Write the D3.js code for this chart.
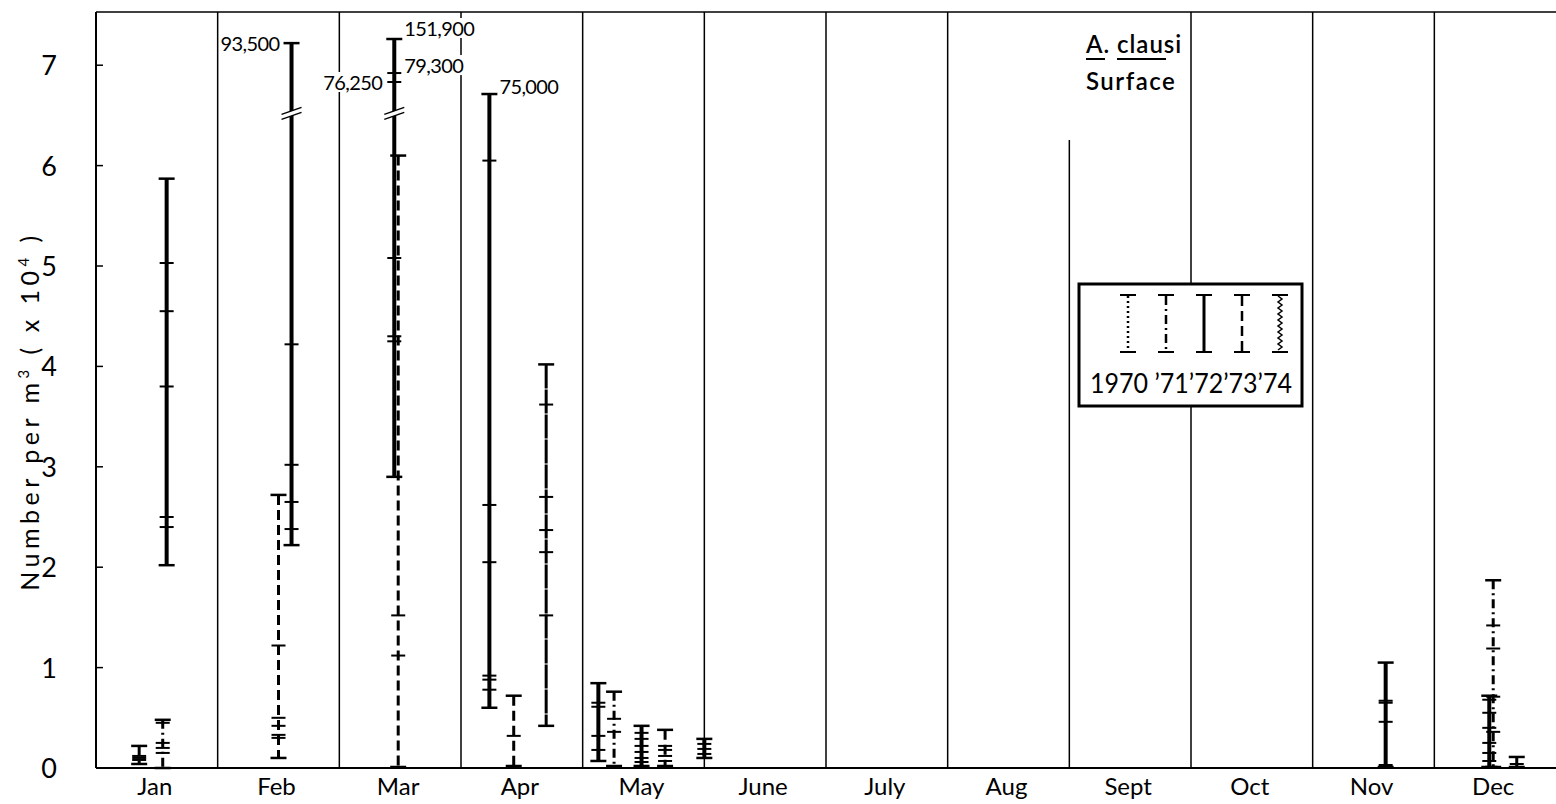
<!DOCTYPE html>
<html><head><meta charset="utf-8">
<script src="https://cdn.jsdelivr.net/npm/d3@7"></script>
<style>
body{margin:0;background:#fff;}
svg{display:block;font-family:Lato,"Open Sans",sans-serif;}
</style></head><body>
<svg id="chart" width="1556" height="804"></svg>
<script>
// ---------- data ----------
const months = ["Jan","Feb","Mar","Apr","May","June","July","Aug","Sept","Oct","Nov","Dec"];
const monthDays = [31,28,31,30,31,30,31,31,30,31,30,31];
const yearLabels = ["1970","’71","’72","’73","’74"];
const yTickValues = [0,1,2,3,4,5,6,7];

// one bar = range of one year's samples in a month (number per m3, x10^4)
const barMonth = ["Jan","Jan","Jan","Feb","Feb","Mar","Mar","Apr","Apr","Apr","May","May","May","May","May","Nov","Dec","Dec","Dec"];
const barDay   = [11,17,18,14,17,14,15,7,13,21,4,8,15,21,31,18,15,14,21];
const barYear  = ["’73","’71","’72","’73","’72","’72","’73","’72","’73","’74","’72","’71","’72","’73","’72","’72","’71","’72","’73"];
const barMin   = [0.04,0.00,2.02,0.10,2.22,2.90,0.01,0.60,0.02,0.42,0.07,0.02,0.02,0.02,0.10,0.01,0.01,0.01,0.01];
const barMax   = [0.22,0.48,5.87,2.72,9.35,15.19,6.10,7.50,0.72,4.02,0.845,0.76,0.42,0.38,0.29,1.05,1.87,0.72,0.11];
const barSamples = [
  [0.08,0.10,0.12],
  [0.45,0.25,0.20,0.15],
  [5.03,4.55,3.80,2.50,2.40],
  [1.22,0.50,0.42,0.33,0.30],
  [4.22,3.02,2.65,2.38],
  [7.93,7.625,5.08,4.30,4.25],
  [1.52,1.12],
  [6.05,2.62,2.05,0.92,0.88,0.78],
  [0.32],
  [3.62,2.70,2.37,2.15,1.52],
  [0.65,0.61,0.32,0.18],
  [0.49,0.36],
  [0.35,0.29,0.22,0.16,0.10,0.06],
  [0.22,0.18,0.12,0.07],
  [0.24,0.19,0.14],
  [0.67,0.65,0.46,0.03],
  [1.42,1.19,0.71,0.36],
  [0.68,0.55,0.40,0.25,0.15,0.07],
  [0.04]
];
// off-scale values are drawn compressed above the axis break
const breakValues  = [0, 6.5, 7.5, 7.625, 7.93, 9.35, 15.19];
const breakDisplay = [0, 6.5, 6.713, 6.833, 6.922, 7.22, 7.261];

// ---------- layout ----------
const svg = d3.select("#chart");
const pL = 96, pR = 1556, pT = 12, pB = 768;
const yAxis = d3.scaleLinear().domain([0, 7.53]).range([pB, pT]);
const y = d3.scaleLinear().domain(breakValues).range(breakDisplay.map(yAxis));
const xMonth = d3.scaleBand().domain(months).range([pL, pR]).padding(0);
const bw = xMonth.bandwidth();
const barX = (m, d) => xMonth(m) + d / monthDays[months.indexOf(m)] * bw;

const yearStyle = {
  "1970": {w:2,   dash:"2,3"},
  "’71":  {w:3,   dash:"9,4,2,4"},
  "’72":  {w:4,   dash:null},
  "’73":  {w:3,   dash:"10,5"},
  "’74":  {w:3,   dash:"24,1"}
};

// frame
svg.append("line").attr("x1",pL).attr("x2",pR).attr("y1",pT).attr("y2",pT).attr("stroke","#000").attr("stroke-width",1.5);
svg.append("line").attr("x1",pL).attr("x2",pR).attr("y1",pB).attr("y2",pB).attr("stroke","#000").attr("stroke-width",2);
svg.append("line").attr("x1",pL).attr("x2",pL).attr("y1",pT).attr("y2",pB).attr("stroke","#000").attr("stroke-width",2);

// month dividers
const dividerTop = {"Sept":140};
svg.append("g").selectAll("line").data(months.slice(1)).join("line")
  .attr("x1",d=>xMonth(d)).attr("x2",d=>xMonth(d))
  .attr("y1",d=>dividerTop[d]||pT).attr("y2",pB)
  .attr("stroke","#000").attr("stroke-width",1.5);

// y axis ticks (inward) and labels
const yg = svg.append("g");
yg.selectAll("line").data(yTickValues).join("line")
  .attr("x1",pL).attr("x2",pL+7).attr("y1",d=>yAxis(d)).attr("y2",d=>yAxis(d))
  .attr("stroke","#000").attr("stroke-width",1.5);
yg.selectAll("text").data(yTickValues).join("text")
  .attr("x",57).attr("y",d=>yAxis(d)+10).attr("text-anchor","end")
  .attr("font-size",27).text(d=>d);

// month labels
svg.append("g").selectAll("text").data(months).join("text")
  .attr("x",d=>xMonth(d)+bw/2 - 2).attr("y",795).attr("text-anchor","middle")
  .attr("font-size",24).text(d=>d);

// y title
const yt = svg.append("text").attr("transform","translate(39,411) rotate(-90)")
  .attr("text-anchor","middle").attr("font-size",25).attr("letter-spacing",4.5);
yt.append("tspan").text("Number  per  m");
yt.append("tspan").attr("font-size",15).attr("dy",-10).text("3");
yt.append("tspan").attr("dy",10).text("  ( x 10");
yt.append("tspan").attr("font-size",15).attr("dy",-10).text("4");
yt.append("tspan").attr("dy",10).text(" )");

// bars
const bars = barMonth.map((m,i)=>({m, day:barDay[i], year:barYear[i], min:barMin[i], max:barMax[i], samples:barSamples[i]}));
const bg = svg.append("g");
const labelLayer = svg.append("g");
const labelSide = {"93,500":"left","151,900":"right","79,300":"right","76,250":"left","75,000":"right"};
const fmt = d3.format(",");
bars.forEach(b => {
  const cx = barX(b.m, b.day);
  const st = yearStyle[b.year];
  const g = bg.append("g");
  g.append("line").attr("x1",cx).attr("x2",cx).attr("y1",y(b.max)).attr("y2",y(b.min))
    .attr("stroke","#000").attr("stroke-width",st.w).attr("stroke-dasharray",st.dash);
  [b.min,b.max].forEach(v => g.append("line").attr("x1",cx-8).attr("x2",cx+8)
    .attr("y1",y(v)).attr("y2",y(v)).attr("stroke","#000").attr("stroke-width",2.5));
  b.samples.forEach(v => g.append("line").attr("x1",cx-7).attr("x2",cx+7)
    .attr("y1",y(v)).attr("y2",y(v)).attr("stroke","#000").attr("stroke-width",2));
  if (b.max > 7.6) { // axis break marks
    const yb = y(6.5);
    g.append("polygon").attr("points",`${cx-10},${yb+4} ${cx+10},${yb-3} ${cx+10},${yb-8} ${cx-10},${yb-1}`).attr("fill","#fff");
    [0,-5].forEach(o => g.append("line").attr("x1",cx-10).attr("x2",cx+10)
      .attr("y1",yb+4+o).attr("y2",yb-3+o).attr("stroke","#000").attr("stroke-width",1.5));
  }
  [b.max, ...b.samples].filter(v => v >= 7.5).forEach(v => {
    const t = fmt(Math.round(v*1e4));
    const side = labelSide[t] || "right";
    const txt = labelLayer.append("text")
      .attr("x", side==="right" ? cx+10 : cx-12)
      .attr("y", y(v) + (side==="right" ? (v===b.max && v>7.6 ? -3 : 0) : 8))
      .attr("text-anchor", side==="right" ? "start" : "end")
      .attr("font-size",20).attr("letter-spacing",-0.6).text(t);
    const bb = txt.node().getBBox();
    labelLayer.insert("rect","text:last-child").attr("x",bb.x-1).attr("y",bb.y+2).attr("width",bb.width+2).attr("height",bb.height-4).attr("fill","#fff");
  });
});

// title
const tg = svg.append("g").attr("font-size",24).attr("font-weight",600);
tg.append("text").attr("x",1086).attr("y",53).attr("letter-spacing",1).text("A.");
tg.append("text").attr("x",1117).attr("y",53).attr("letter-spacing",1).text("clausi");
tg.append("line").attr("x1",1086).attr("x2",1105).attr("y1",59).attr("y2",59).attr("stroke","#000").attr("stroke-width",2);
tg.append("line").attr("x1",1117).attr("x2",1166).attr("y1",59).attr("y2",59).attr("stroke","#000").attr("stroke-width",2);
tg.append("text").attr("x",1086).attr("y",90).attr("letter-spacing",1.5).text("Surface");

// legend
const lg = svg.append("g");
lg.append("rect").attr("x",1079).attr("y",284).attr("width",223).attr("height",122)
  .attr("fill","#fff").attr("stroke","#000").attr("stroke-width",3);
const lx = d3.scalePoint().domain(yearLabels).range([1128,1280]);
yearLabels.forEach(yr => {
  const cx = lx(yr), st = yearStyle[yr];
  if (yr === "’74") {
    let d = `M${cx-2},296`;
    for (let yy = 296; yy < 350; yy += 6) d += ` L${cx+2},${yy+3} L${cx-2},${yy+6}`;
    lg.append("path").attr("d",d).attr("fill","none").attr("stroke","#000").attr("stroke-width",1.5);
  } else {
    lg.append("line").attr("x1",cx).attr("x2",cx).attr("y1",296).attr("y2",352)
      .attr("stroke","#000").attr("stroke-width",st.w===4?3:2.5).attr("stroke-dasharray",st.dash);
  }
  [295,352].forEach(v => lg.append("line").attr("x1",cx-8).attr("x2",cx+8).attr("y1",v).attr("y2",v)
    .attr("stroke","#000").attr("stroke-width",2));
});
lg.append("text").attr("x",1090).attr("y",393).attr("font-size",26)
  .attr("textLength",202).attr("lengthAdjust","spacingAndGlyphs")
  .text(yearLabels[0] + " " + yearLabels.slice(1).join(""));
</script>
</body></html>
